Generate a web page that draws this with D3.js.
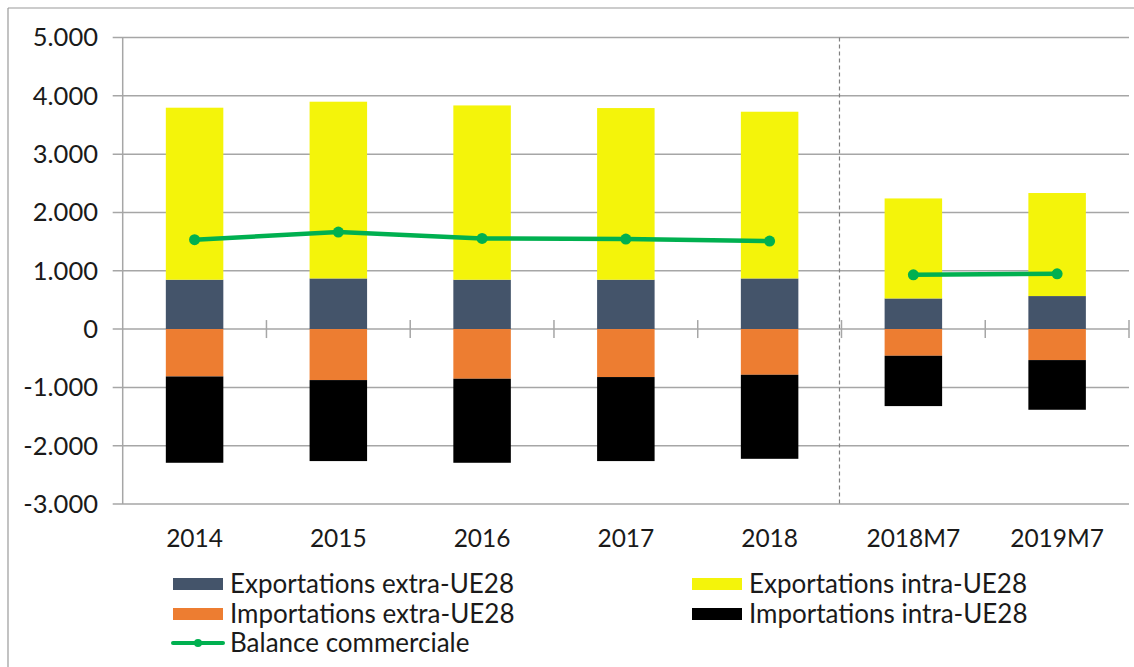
<!DOCTYPE html>
<html>
<head>
<meta charset="utf-8">
<script src="https://cdn.jsdelivr.net/npm/d3@7"></script>
<style>
  body { margin: 0; background: #fff; }
  svg { display: block; font-family: Lato, "Open Sans", sans-serif; }
</style>
</head>
<body>
<div id="chart"></div>
<script>
// chart values
const categories = ["2014", "2015", "2016", "2017", "2018", "2018M7", "2019M7"];
const exportExtra = [846, 868, 846, 846, 868, 525, 566];
const exportIntra = [2950, 3031, 2989, 2944, 2859, 1715, 1767];
const importExtra = [-813, -875, -852, -823, -784, -458, -532];
const importIntra = [-1480, -1389, -1441, -1441, -1441, -863, -852];
const balance = [1532, 1664, 1554, 1544, 1509, 931, 948];
// the line is broken between the yearly and monthly parts
const segment = [0, 0, 0, 0, 0, 1, 1];
const yTicks = [-3000, -2000, -1000, 0, 1000, 2000, 3000, 4000, 5000];

const seriesNames = ["Exportations extra-UE28", "Exportations intra-UE28",
                     "Importations extra-UE28", "Importations intra-UE28"];
const colors = {
  "Exportations extra-UE28": "#44546a",
  "Exportations intra-UE28": "#f4f40a",
  "Importations extra-UE28": "#ed7d31",
  "Importations intra-UE28": "#000000"
};
const green = "#00b050";
const gridColor = "#a6a6a6";

const W = 1134, H = 667;
const svg = d3.select("#chart").append("svg")
    .attr("width", W)
    .attr("height", H);

// outer frame (only top and left are visible in the picture)
svg.append("line").attr("x1", 8).attr("y1", 8).attr("x2", W).attr("y2", 8)
    .attr("stroke", "#9a9a9a").attr("stroke-width", 1.2);
svg.append("line").attr("x1", 8).attr("y1", 8).attr("x2", 8).attr("y2", H)
    .attr("stroke", "#9a9a9a").attr("stroke-width", 1.2);

const plotLeft = 122.7, plotRight = 1129;
const x = d3.scaleBand().domain(categories).range([plotLeft, plotRight]).padding(0);
const y = d3.scaleLinear().domain([-3000, 5000]).range([504, 37.5]);
const barW = x.bandwidth() * 0.4;

// gridlines
svg.append("g").selectAll("line")
    .data(yTicks)
    .join("line")
    .attr("x1", plotLeft - 10)
    .attr("x2", plotRight)
    .attr("y1", d => y(d))
    .attr("y2", d => y(d))
    .attr("stroke", gridColor)
    .attr("stroke-width", 1.5);

// vertical axis line
svg.append("line")
    .attr("x1", plotLeft).attr("x2", plotLeft)
    .attr("y1", y(5000)).attr("y2", y(-3000))
    .attr("stroke", gridColor).attr("stroke-width", 1.5);

// y tick labels
svg.append("g").selectAll("text")
    .data(yTicks)
    .join("text")
    .attr("x", 98)
    .attr("y", d => y(d))
    .attr("dy", "0.35em")
    .attr("text-anchor", "end")
    .attr("font-size", 25.5)
    .attr("fill", "#1a1a1a")
    .text(d => d3.format(",")(d).replace(/,/g, ".").replace("−", "-"));

// stacked bars: positives stack up from 0, negatives stack down
const rows = categories.map((c, i) => ({
  cat: c,
  parts: [
    { name: seriesNames[0], y0: 0, y1: exportExtra[i] },
    { name: seriesNames[1], y0: exportExtra[i], y1: exportExtra[i] + exportIntra[i] },
    { name: seriesNames[2], y0: 0, y1: importExtra[i] },
    { name: seriesNames[3], y0: importExtra[i], y1: importExtra[i] + importIntra[i] }
  ]
}));

const barG = svg.append("g").selectAll("g")
    .data(rows)
    .join("g")
    .attr("transform", d => `translate(${x(d.cat) + (x.bandwidth() - barW) / 2},0)`);

barG.selectAll("rect")
    .data(d => d.parts)
    .join("rect")
    .attr("x", 0)
    .attr("width", barW)
    .attr("y", d => y(Math.max(d.y0, d.y1)))
    .attr("height", d => Math.abs(y(d.y0) - y(d.y1)))
    .attr("fill", d => colors[d.name]);

// category tick marks across the zero line
svg.append("g").selectAll("line")
    .data(categories.slice(1).concat(["end"]))
    .join("line")
    .attr("x1", (d, i) => i < categories.length - 1 ? x(d) : plotRight)
    .attr("x2", (d, i) => i < categories.length - 1 ? x(d) : plotRight)
    .attr("y1", y(0) - 9)
    .attr("y2", y(0) + 9)
    .attr("stroke", gridColor)
    .attr("stroke-width", 1.5);

// dashed separator between years and months
svg.append("line")
    .attr("x1", x(categories[5]) - 2).attr("x2", x(categories[5]) - 2)
    .attr("y1", y(5000)).attr("y2", y(-3000))
    .attr("stroke", "#808080")
    .attr("stroke-width", 1.2)
    .attr("stroke-dasharray", "4,3");

// x labels
svg.append("g").selectAll("text")
    .data(categories)
    .join("text")
    .attr("x", d => x(d) + x.bandwidth() / 2)
    .attr("y", 547)
    .attr("text-anchor", "middle")
    .attr("font-size", 24.5)
    .attr("fill", "#1a1a1a")
    .text(d => d);

// balance line
const pts = categories.map((c, i) => ({ cat: c, v: balance[i], seg: segment[i] }));
const line = d3.line()
    .x(d => x(d.cat) + x.bandwidth() / 2)
    .y(d => y(d.v));
const segs = d3.groups(pts, d => d.seg).map(g => g[1]);
svg.append("g").selectAll("path")
    .data(segs)
    .join("path")
    .attr("d", line)
    .attr("fill", "none")
    .attr("stroke", green)
    .attr("stroke-width", 4.5)
    .attr("stroke-linecap", "round");
svg.append("g").selectAll("circle")
    .data(pts)
    .join("circle")
    .attr("cx", d => x(d.cat) + x.bandwidth() / 2)
    .attr("cy", d => y(d.v))
    .attr("r", 5.5)
    .attr("fill", green);

// legend
const legendItems = [
  { name: seriesNames[0], col: 0, row: 0 },
  { name: seriesNames[1], col: 1, row: 0 },
  { name: seriesNames[2], col: 0, row: 1 },
  { name: seriesNames[3], col: 1, row: 1 },
  { name: "Balance commerciale", col: 0, row: 2, line: true }
];
const legendX = [173, 692], legendY = [584, 614, 643];
const leg = svg.append("g").selectAll("g")
    .data(legendItems)
    .join("g")
    .attr("transform", d => `translate(${legendX[d.col]},${legendY[d.row]})`);

leg.filter(d => !d.line).append("rect")
    .attr("x", 0).attr("y", -6)
    .attr("width", 50).attr("height", 12)
    .attr("fill", d => colors[d.name]);
leg.filter(d => d.line).append("line")
    .attr("x1", 0).attr("x2", 50).attr("y1", 0).attr("y2", 0)
    .attr("stroke", green).attr("stroke-width", 4).attr("stroke-linecap", "round");
leg.filter(d => d.line).append("circle")
    .attr("cx", 25).attr("cy", 0).attr("r", 4).attr("fill", green);
leg.append("text")
    .attr("x", 57)
    .attr("y", 0)
    .attr("dy", "0.35em")
    .attr("font-size", 26)
    .attr("fill", "#1a1a1a")
    .text(d => d.name);
</script>
</body>
</html>
